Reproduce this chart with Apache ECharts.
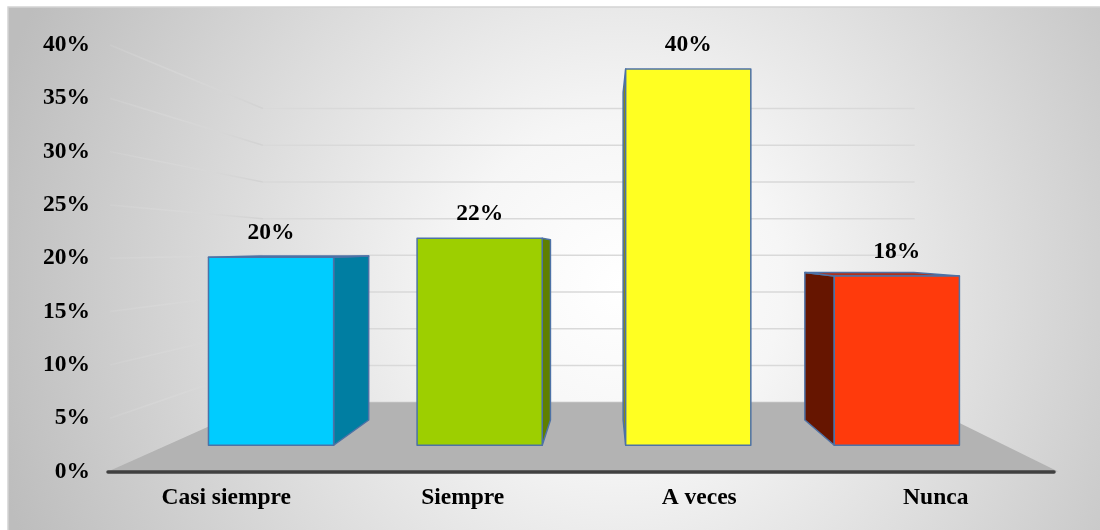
<!DOCTYPE html>
<html>
<head>
<meta charset="utf-8">
<script src="https://cdn.jsdelivr.net/npm/echarts@6/dist/echarts.min.js"></script>
<style>
  html, body { margin: 0; padding: 0; background: #ffffff; }
  #chart { width: 1100px; height: 530px; }
</style>
</head>
<body>
<div id="chart"></div>
<script>
// ---- data ----
const categories = ['Casi siempre', 'Siempre', 'A veces', 'Nunca'];
const shares = [20, 22, 40, 18];
const yTickValues = [0, 5, 10, 15, 20, 25, 30, 35, 40];

// ---- colours ----
const frontColors = ['#00ccff', '#9dcf00', '#ffff22', '#ff3a0c'];
const sideColors = ['#007ea2', '#5f7f00', '#8f8f00', '#661500'];
const topColors = ['#33d6ff', '#b0d833', '#ffff66', '#b0301a'];
const EDGE = '#4d72a6';
const FONT = '"Liberation Serif", "Times New Roman", serif';

// ---- simple perspective: vanishing point and depth scale (1 = axis plane) ----
const VP = [606, 249];
const DEPTH_BAR_FRONT = 0.882;
const DEPTH_BAR_BACK = 0.7685;
const DEPTH_WALL = 0.689;
function project(p, s) {
  return [VP[0] + (p[0] - VP[0]) * s, VP[1] + (p[1] - VP[1]) * s];
}

// back wall grid lines plus the receding lines on the left side wall
function renderWalls(params, api) {
  const cs = params.coordSys;
  const y = api.coord([0, api.value(1)])[1];
  const backL = project([cs.x, y], DEPTH_WALL);
  const backR = project([cs.x + cs.width, y], DEPTH_WALL);
  return {
    type: 'group',
    children: [
      {
        type: 'line',
        shape: { x1: cs.x + 2, y1: y, x2: backL[0], y2: backL[1] },
        style: {
          lineWidth: 1.5,
          stroke: {
            type: 'linear', x: 0, y: 0, x2: 1, y2: 0,
            colorStops: [
              { offset: 0, color: 'rgba(225,225,225,0.15)' },
              { offset: 1, color: 'rgba(210,210,210,0.95)' }
            ]
          }
        }
      },
      {
        type: 'line',
        shape: { x1: backL[0], y1: backL[1], x2: backR[0], y2: backR[1] },
        style: { stroke: '#d9d9d9', lineWidth: 1.5 }
      }
    ]
  };
}

// floor plane between the category axis and the back wall
function renderFloor(params, api) {
  const cs = params.coordSys;
  const y0 = api.coord([0, 0])[1];
  const fl = [cs.x, y0];
  const fr = [cs.x + cs.width + 4, y0];
  const br = project(fr, DEPTH_WALL);
  const bl = project(fl, DEPTH_WALL);
  return {
    type: 'polygon',
    shape: { points: [fl, fr, br, bl] },
    style: { fill: '#b3b3b3' }
  };
}

// 3-D looking box for one category
function renderBox(params, api) {
  const i = api.value(0);
  const v = api.value(1);
  const base = api.coord([i, 0]);
  const top = api.coord([i, v]);
  const half = api.size([1, 0])[0] * 0.3;
  const corners = {
    tl: [base[0] - half, top[1]],
    tr: [base[0] + half, top[1]],
    br: [base[0] + half, base[1]],
    bl: [base[0] - half, base[1]]
  };
  const F = {}, B = {};
  for (const k in corners) {
    F[k] = project(corners[k], DEPTH_BAR_FRONT);
    B[k] = project(corners[k], DEPTH_BAR_BACK);
  }
  const edgeStyle = { stroke: EDGE, lineWidth: 1.5, lineJoin: 'round' };
  const children = [];
  // side face toward the vanishing point
  const side = F.tl[0] + (F.tr[0] - F.tl[0]) / 2 < VP[0]
    ? [F.tr, B.tr, B.br, F.br]
    : [F.tl, B.tl, B.bl, F.bl];
  children.push({
    type: 'polygon',
    shape: { points: side },
    style: Object.assign({ fill: sideColors[i] }, edgeStyle)
  });
  // top face shows only when it sits below eye level
  if (top[1] > VP[1]) {
    children.push({
      type: 'polygon',
      shape: { points: [F.tl, F.tr, B.tr, B.tl] },
      style: Object.assign({ fill: topColors[i] }, edgeStyle)
    });
  }
  children.push({
    type: 'polygon',
    shape: { points: [F.tl, F.tr, F.br, F.bl] },
    style: Object.assign({ fill: frontColors[i] }, edgeStyle)
  });
  children.push({
    type: 'text',
    style: {
      text: v + '%',
      x: (F.tl[0] + F.tr[0]) / 2,
      y: F.tl[1] - 24,
      align: 'center',
      verticalAlign: 'middle',
      font: 'bold 23.5px ' + FONT,
      fill: '#000000'
    }
  });
  return { type: 'group', children: children };
}

const chart = echarts.init(document.getElementById('chart'), null, { renderer: 'canvas' });

chart.setOption({
  animation: false,
  backgroundColor: '#ffffff',
  graphic: [{
    type: 'rect',
    z: -100,
    silent: true,
    shape: { x: 8, y: 7, width: 1100, height: 530 },
    style: {
      fill: {
        type: 'radial', x: 620, y: 285, r: 650, global: true,
        colorStops: [
          { offset: 0, color: '#ffffff' },
          { offset: 0.25, color: '#f6f6f6' },
          { offset: 1, color: '#bdbdbd' }
        ]
      },
      stroke: '#d4d4d4',
      lineWidth: 1.5
    }
  }],
  grid: { left: 108, right: 46, top: 45, bottom: 58.5, containLabel: false },
  xAxis: {
    type: 'category',
    data: categories,
    z: 10,
    axisLine: { show: true, lineStyle: { color: '#404040', width: 3.5, cap: 'round' } },
    axisTick: { show: false },
    splitLine: { show: false },
    axisLabel: {
      margin: 14,
      color: '#000000',
      fontFamily: FONT,
      fontWeight: 'bold',
      fontSize: 23.5
    }
  },
  yAxis: {
    type: 'value',
    min: 0,
    max: 40,
    interval: 5,
    axisLine: { show: false },
    axisTick: { show: false },
    splitLine: { show: false },
    axisLabel: {
      formatter: '{value}%',
      margin: 18,
      color: '#000000',
      fontFamily: FONT,
      fontWeight: 'bold',
      fontSize: 23.5
    }
  },
  series: [
    {
      type: 'custom',
      name: 'walls',
      z: 1,
      silent: true,
      data: yTickValues.map(function (v) { return [0, v]; }),
      renderItem: renderWalls
    },
    {
      type: 'custom',
      name: 'floor',
      z: 2,
      silent: true,
      data: [[0, 0]],
      renderItem: renderFloor
    },
    {
      type: 'custom',
      name: 'shares',
      z: 3,
      data: shares.map(function (v, i) { return [i, v]; }),
      renderItem: renderBox
    }
  ]
});
</script>
</body>
</html>
